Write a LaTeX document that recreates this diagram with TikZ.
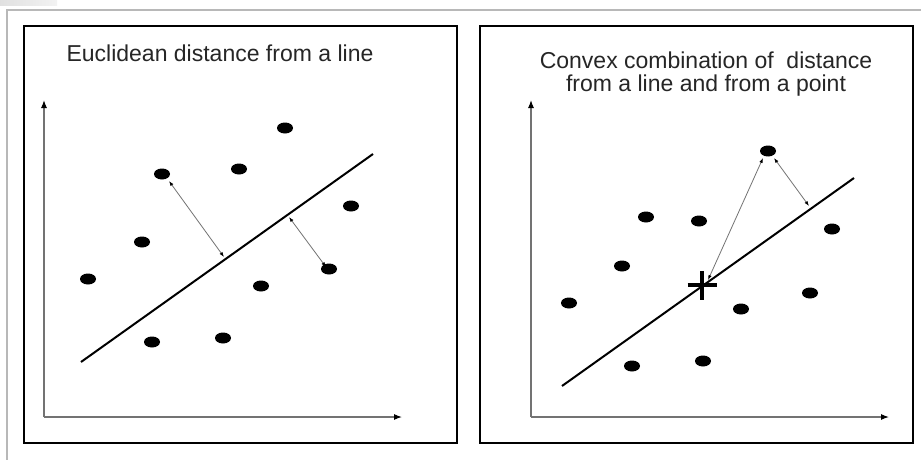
\documentclass[tikz,border=0pt]{standalone}
\usepackage{fontspec}
\setmainfont{Liberation Sans}
\usetikzlibrary{shapes.geometric,arrows.meta}
\begin{document}
\begin{tikzpicture}[x=1pt,y=-1pt,
  dot/.style={ellipse,fill=black,inner sep=0pt,minimum width=16pt,minimum height=11pt},
  panel/.style={draw=black,line width=2.2pt},
  axis/.style={draw=black!55,line width=1.1pt,-{Latex[length=8pt,width=6pt,color=black]}},
  fit line/.style={draw=black,line width=2pt},
  dist/.style={draw=black!55,line width=0.8pt,{Latex[length=5pt,width=3.5pt,color=black]}-{Latex[length=5pt,width=3.5pt,color=black]}},
  title/.style={font=\fontsize{23}{23}\selectfont,text=black!85,align=center,inner sep=0pt}]
\useasboundingbox (0,0) rectangle (921,460);
\fill[white] (0,0) rectangle (921,460);
% outer frame
\shade[left color=black!12,right color=black!5] (0,0) rectangle (57,6);
\draw[black!28,line width=2.5pt] (7,460) -- (7,10) -- (921,10);
% ---------------- left panel
\draw[panel] (24,26) rectangle (457,443);
\node[title,anchor=base] (t1) at (220,62) {Euclidean distance from a line};
\coordinate (o1) at (44,417);
\coordinate (y1) at (44,100);
\coordinate (x1) at (402,417);
\draw[axis] (o1) -- (y1);
\draw[axis] (o1) -- (x1);
\coordinate (la) at (81,362);
\coordinate (lb) at (373,154);
\draw[fit line] (la) -- (lb);
\node[dot] (a1) at (285,128) {};
\node[dot] (a2) at (239,169) {};
\node[dot] (a3) at (162,174) {};
\node[dot] (a4) at (351,206) {};
\node[dot] (a5) at (142,242) {};
\node[dot] (a6) at (88,279) {};
\node[dot] (a7) at (329,269) {};
\node[dot] (a8) at (261,286) {};
\node[dot] (a9) at (152,342) {};
\node[dot] (a10) at (223,338) {};
\coordinate (p1s) at (169,181);
\coordinate (p1e) at (224,257);
\draw[dist] (p1s) -- (p1e);
\coordinate (p2s) at (289,217);
\coordinate (p2e) at (326,267);
\draw[dist] (p2s) -- (p2e);
% ---------------- right panel
\draw[panel] (480,26) rectangle (913,443);
\node[title,anchor=base] (t2) at (706,92) {Convex combination of\ \ distance\\from a line and from a point};
\coordinate (o2) at (531,417);
\coordinate (y2) at (531,100);
\coordinate (x2) at (889,417);
\draw[axis] (o2) -- (y2);
\draw[axis] (o2) -- (x2);
\coordinate (lc) at (562,386);
\coordinate (ld) at (854,178);
\draw[fit line] (lc) -- (ld);
\coordinate (cp) at (702,285);
\draw[line width=4pt] ([xshift=-14.5pt]cp) -- ([xshift=14.5pt]cp);
\draw[line width=4pt] ([yshift=-14.5pt]cp) -- ([yshift=14.5pt]cp);
\node[dot] (b1) at (768,151) {};
\node[dot] (b2) at (646,217) {};
\node[dot] (b3) at (699,221) {};
\node[dot] (b4) at (832,229) {};
\node[dot] (b5) at (622,266) {};
\node[dot] (b6) at (569,303) {};
\node[dot] (b7) at (810,293) {};
\node[dot] (b8) at (741,309) {};
\node[dot] (b9) at (632,366) {};
\node[dot] (b10) at (703,361) {};
\coordinate (q1s) at (763,158);
\coordinate (q1e) at (708,280);
\draw[dist] (q1s) -- (q1e);
\coordinate (q2s) at (774,158);
\coordinate (q2e) at (809,206);
\draw[dist] (q2s) -- (q2e);
\end{tikzpicture}
\end{document}
